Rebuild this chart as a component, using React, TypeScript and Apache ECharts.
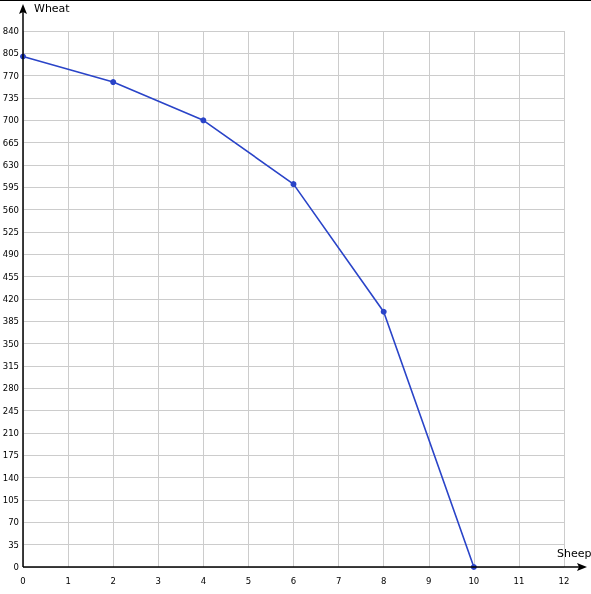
import React, { useEffect, useRef } from "react";
import * as echarts from "echarts";

const sheep = [0, 2, 4, 6, 8, 10];
const wheat = [800, 760, 700, 600, 400, 0];
const xTitle = "Sheep";
const yTitle = "Wheat";

export default function App() {
  const ref = useRef<HTMLDivElement>(null);
  useEffect(() => {
    const chart = echarts.init(ref.current!, null, { renderer: "svg" });
    const font = "'DejaVu Sans', Verdana, sans-serif";
    chart.setOption({
      animation: false,
      grid: { left: 23, right: 27, top: 31, bottom: 27, containLabel: false, outerBoundsMode: "none" },
      xAxis: {
        type: "value",
        min: 0,
        max: 12,
        interval: 1,
        axisLine: { show: false },
        axisTick: { show: false },
        axisLabel: { color: "#000", fontSize: 8.5, fontFamily: font, margin: 9 },
        splitLine: { show: true, lineStyle: { color: "#cccccc", width: 1 } },
      },
      yAxis: {
        type: "value",
        min: 0,
        max: 840,
        interval: 35,
        axisLine: { show: false },
        axisTick: { show: false },
        axisLabel: { color: "#000", fontSize: 8.5, fontFamily: font, margin: 4 },
        splitLine: { show: true, lineStyle: { color: "#cccccc", width: 1 } },
      },
      series: [
        {
          type: "line",
          data: sheep.map((x, i) => [x, wheat[i]]),
          symbol: "circle",
          symbolSize: 6,
          lineStyle: { color: "#2a44c8", width: 1.6 },
          itemStyle: { color: "#2a44c8" },
          z: 5,
        },
      ],
      graphic: [
        { type: "line", shape: { x1: 0, y1: 0.5, x2: 591, y2: 0.5 }, style: { stroke: "#000", lineWidth: 1 } },
        { type: "line", shape: { x1: 23, y1: 567, x2: 580, y2: 567 }, style: { stroke: "#000", lineWidth: 1.5 }, z: 10 },
        { type: "polygon", shape: { points: [[587, 567], [577, 563], [579, 567], [577, 571]] }, style: { fill: "#000" }, z: 10 },
        { type: "line", shape: { x1: 23, y1: 567, x2: 23, y2: 10 }, style: { stroke: "#000", lineWidth: 1.5 }, z: 10 },
        { type: "polygon", shape: { points: [[23, 4], [19, 14], [23, 12], [27, 14]] }, style: { fill: "#000" }, z: 10 },
        { type: "text", x: 34, y: 3, style: { text: yTitle, font: `11px ${font}`, fill: "#000" } },
        { type: "text", x: 557, y: 548, style: { text: xTitle, font: `11px ${font}`, fill: "#000" } },
      ],
    });
    return () => chart.dispose();
  }, []);
  return <div ref={ref} style={{ position: "fixed", left: 0, top: 0, width: 591, height: 594 }} />;
}
